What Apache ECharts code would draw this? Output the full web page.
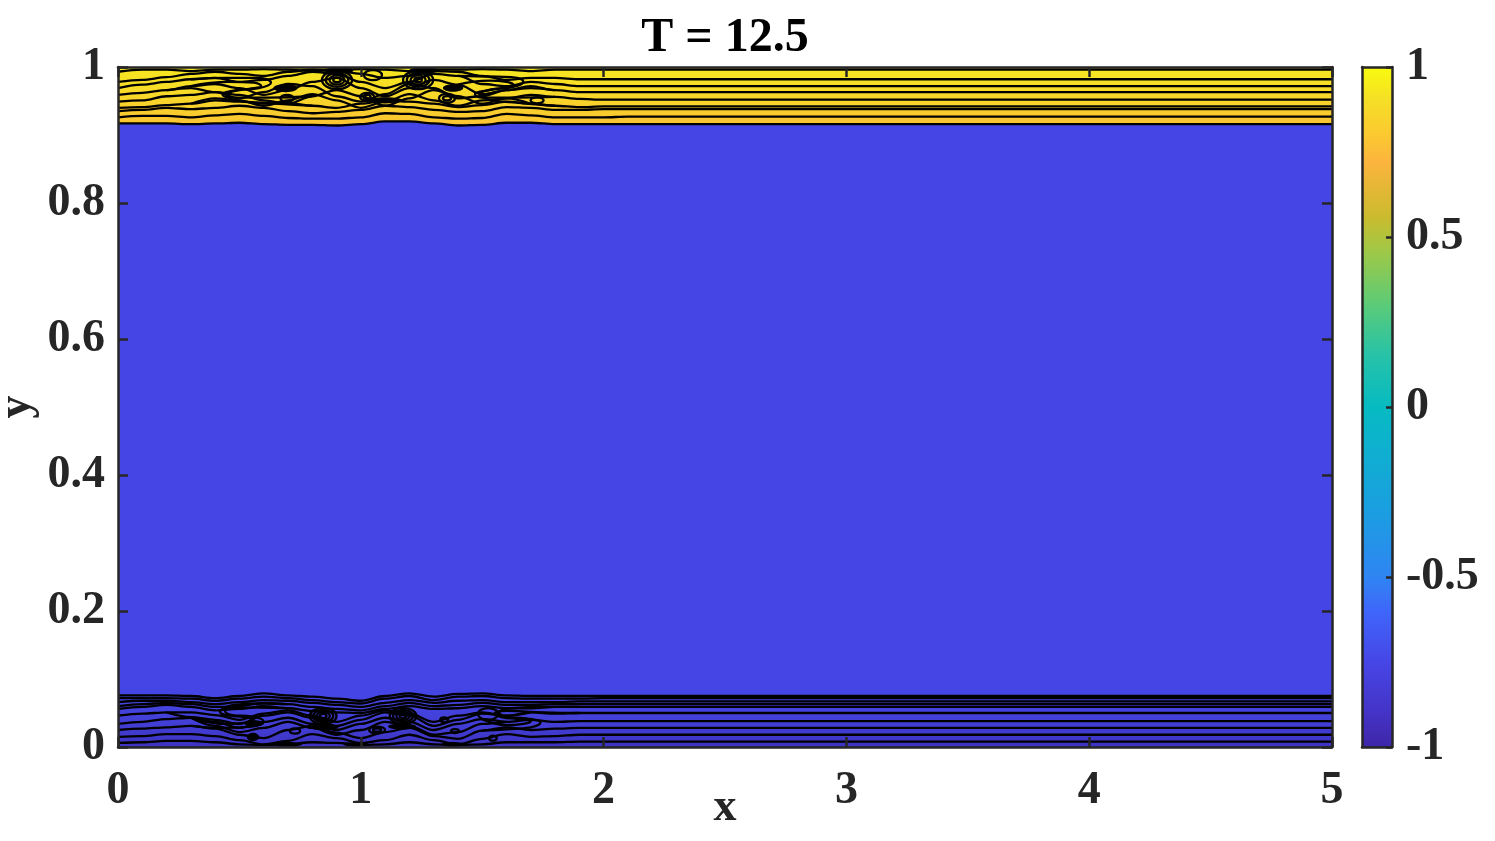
<!DOCTYPE html>
<html><head><meta charset="utf-8">
<script src="https://cdn.jsdelivr.net/npm/echarts/dist/echarts.min.js"></script>
<style>html,body{margin:0;padding:0;background:#fff}#c{width:1495px;height:841px}</style>
</head><body><div id="c"></div><script>
// ---------- data ----------
const xTicks = [0, 1, 2, 3, 4, 5];
const yTicks = [0, 0.2, 0.4, 0.6, 0.8, 1];
const cbTicks = [-1, -0.5, 0, 0.5, 1];
const titleText = 'T = 12.5';
// x positions where contour lines were read (beyond 2.2 they run flat to x = 5)
const xs = [0,0.1,0.2,0.3,0.4,0.5,0.6,0.7,0.8,0.9,1.0,1.1,1.2,1.3,1.4,1.5,1.6,1.7,1.8,1.9,2.0,2.1,2.2];
const xEnd = 5;
// upper (yellow) layer: interface and contour lines
const topEdge = [0.917,0.917,0.917,0.916,0.917,0.918,0.916,0.915,0.915,0.914,0.916,0.920,0.920,0.917,0.914,0.915,0.918,0.918,0.916,0.916,0.916,0.916,0.916];
const topL1 = [0.926,0.928,0.928,0.926,0.929,0.931,0.928,0.925,0.924,0.924,0.926,0.932,0.931,0.926,0.924,0.925,0.931,0.929,0.926,0.926,0.926,0.927,0.927];
const topL2 = [0.935,0.937,0.940,0.938,0.940,0.943,0.940,0.935,0.932,0.934,0.937,0.943,0.941,0.937,0.934,0.935,0.941,0.940,0.937,0.937,0.938,0.938,0.938];
const topL3 = [0.940,0.941,0.944,0.946,0.951,0.949,0.946,0.947,0.943,0.940,0.946,0.951,0.949,0.946,0.941,0.944,0.949,0.946,0.943,0.941,0.942,0.942,0.942];
const topL4 = [0.949,0.951,0.957,0.959,0.963,0.959,0.951,0.946,0.957,0.966,0.957,0.943,0.954,0.966,0.957,0.946,0.954,0.959,0.956,0.953,0.952,0.952,0.952];
const topL5 = [0.959,0.962,0.966,0.972,0.975,0.969,0.959,0.966,0.978,0.984,0.969,0.957,0.969,0.981,0.974,0.960,0.966,0.972,0.966,0.963,0.963,0.963,0.963];
const topL6 = [0.969,0.974,0.978,0.982,0.984,0.978,0.981,0.987,0.993,0.990,0.978,0.969,0.978,0.990,0.987,0.975,0.972,0.978,0.975,0.972,0.972,0.972,0.972];
const topL7 = [0.978,0.981,0.985,0.990,0.993,0.990,0.987,0.993,0.996,0.994,0.990,0.984,0.987,0.994,0.993,0.987,0.981,0.984,0.984,0.982,0.982,0.982,0.982];
const topL8 = [0.993,0.996,0.996,0.994,0.996,0.996,0.997,0.996,0.994,0.996,0.997,0.996,0.994,0.996,0.996,0.997,0.996,0.994,0.996,0.996,0.996,0.996,0.996];
const topE1 = [null,null,0.966,0.969,0.963,0.954,0.963,0.975,0.972,0.957,0.949,0.960,0.975,0.969,0.954,0.957,0.966,0.969,0.966,null,null,null,null];
const topE2 = [null,null,null,0.946,0.954,0.951,0.943,0.951,0.960,0.951,0.940,0.949,0.960,0.951,0.943,0.951,0.954,0.946,null,null,null,null,null];
// folded (S-shaped) contours in the upper layer: [x, y] along each line
const topFold1a = [[0.30,0.982],[0.45,0.984],[0.58,0.984],[0.63,0.977],[0.58,0.969],[0.50,0.966],[0.45,0.959],[0.49,0.951],[0.62,0.947],[0.80,0.943]];
const topFold1b = [[0.30,0.972],[0.46,0.978],[0.56,0.977],[0.59,0.972],[0.54,0.968],[0.47,0.965],[0.43,0.960],[0.46,0.955],[0.62,0.955],[0.80,0.957]];
const topFold2a = [[1.40,0.987],[1.52,0.986],[1.62,0.985],[1.67,0.978],[1.62,0.970],[1.54,0.967],[1.49,0.960],[1.53,0.952],[1.66,0.947],[1.80,0.943]];
const topFold2b = [[1.40,0.974],[1.53,0.980],[1.60,0.978],[1.63,0.973],[1.58,0.969],[1.51,0.965],[1.47,0.960],[1.50,0.955],[1.64,0.955],[1.80,0.956]];
// lower (dark blue) layer
const botEdge = [0.076,0.076,0.076,0.075,0.072,0.075,0.079,0.076,0.074,0.071,0.068,0.075,0.079,0.074,0.078,0.079,0.076,0.075,0.075,0.075,0.075,0.075,0.075];
const botM1 = [0.072,0.072,0.072,0.071,0.068,0.071,0.074,0.072,0.069,0.066,0.064,0.071,0.075,0.069,0.074,0.075,0.072,0.071,0.071,0.071,0.072,0.072,0.072];
const botM2 = [0.066,0.068,0.068,0.066,0.063,0.066,0.069,0.068,0.065,0.062,0.059,0.065,0.069,0.065,0.068,0.069,0.066,0.066,0.066,0.067,0.067,0.067,0.067];
const botM3 = [0.060,0.063,0.065,0.063,0.059,0.060,0.065,0.063,0.059,0.056,0.054,0.060,0.065,0.060,0.062,0.065,0.062,0.062,0.063,0.063,0.063,0.063,0.063];
const botM4 = [0.056,0.059,0.062,0.059,0.054,0.056,0.060,0.057,0.053,0.051,0.050,0.056,0.060,0.056,0.057,0.060,0.057,0.057,0.059,0.059,0.059,0.059,0.059];
const botM5 = [0.046,0.049,0.051,0.051,0.047,0.040,0.049,0.054,0.046,0.037,0.046,0.054,0.049,0.037,0.046,0.051,0.046,0.051,0.049,0.050,0.050,0.050,0.050];
const botM6 = [0.034,0.037,0.041,0.043,0.037,0.028,0.037,0.043,0.034,0.025,0.034,0.043,0.037,0.025,0.034,0.041,0.037,0.040,0.037,0.038,0.038,0.038,0.038];
const botM7 = [0.025,0.027,0.029,0.031,0.027,0.018,0.013,0.025,0.031,0.021,0.013,0.022,0.028,0.016,0.012,0.024,0.029,0.025,0.027,0.028,0.028,0.028,0.028];
const botM8 = [0.015,0.016,0.019,0.019,0.016,0.010,0.004,0.009,0.019,0.013,0.006,0.010,0.018,0.010,0.004,0.012,0.019,0.015,0.016,0.018,0.018,0.018,0.018];
const botM9 = [0.006,0.007,0.009,0.009,0.007,0.004,0.003,0.004,0.007,0.006,0.003,0.004,0.007,0.004,0.003,0.004,0.007,0.007,0.007,0.008,0.008,0.008,0.008];
const botF1 = [null,null,0.051,0.044,0.040,0.034,0.046,0.051,0.043,0.031,0.040,0.051,0.046,0.031,0.040,0.049,0.046,0.051,null,null,null,null,null];
const botF2 = [null,null,null,0.043,0.031,0.022,0.028,0.037,0.028,0.018,0.025,0.037,0.031,0.018,0.022,0.034,0.037,null,null,null,null,null,null];
// folded contours in the lower layer
const botFold1a = [[0.30,0.031],[0.42,0.028],[0.55,0.030],[0.60,0.037],[0.55,0.045],[0.47,0.047],[0.44,0.054],[0.48,0.062],[0.60,0.064],[0.70,0.063]];
const botFold1b = [[0.30,0.043],[0.44,0.034],[0.53,0.036],[0.56,0.040],[0.52,0.044],[0.46,0.046],[0.42,0.052],[0.45,0.058],[0.58,0.058],[0.70,0.057]];
const botFold2a = [[1.50,0.024],[1.60,0.026],[1.70,0.029],[1.74,0.036],[1.68,0.042],[1.60,0.044],[1.57,0.051],[1.62,0.057],[1.75,0.059],[1.90,0.059]];
const botFold2b = [[1.50,0.041],[1.60,0.032],[1.67,0.034],[1.70,0.038],[1.65,0.041],[1.58,0.044],[1.55,0.049],[1.60,0.053],[1.75,0.051],[1.90,0.050]];
// closed vortex contours: [x, y, rx, ry, rings]
const topRings = [[0.696,0.954,0.027,0.0051,1],[0.902,0.981,0.062,0.0135,4],[1.026,0.956,0.029,0.0059,2],[1.05,0.988,0.037,0.0074,1],[1.236,0.981,0.062,0.0135,4],[1.355,0.954,0.033,0.0066,2],[1.726,0.951,0.027,0.0044,1]];
const botRings = [[0.556,0.0147,0.021,0.0044,2],[0.729,0.0235,0.021,0.0037,1],[0.845,0.0456,0.055,0.0120,4],[1.067,0.025,0.033,0.0051,2],[1.174,0.0456,0.055,0.0120,4],[1.343,0.040,0.016,0.0037,1],[1.388,0.0235,0.016,0.0029,1],[1.524,0.0485,0.041,0.0088,1],[1.544,0.013,0.016,0.0037,1]];
// dense clusters of contour lines: [x, y, rx, ry]
const topBlobs = [[0.69,0.969,0.050,0.0060],[0.91,0.995,0.060,0.0045],[1.10,0.951,0.070,0.0045],[1.26,0.995,0.060,0.0045],[1.38,0.969,0.042,0.0055]];
const botBlobs = [[0.56,0.035,0.040,0.0045],[0.85,0.029,0.058,0.0045],[1.17,0.030,0.058,0.0045],[0.70,0.004,0.058,0.0035],[0.98,0.004,0.052,0.0035],[1.38,0.004,0.048,0.0035]];
// parula colour map (value -> colour)
const parulaVals = [-1,-0.9,-0.75,-0.6,-0.5,-0.3,-0.1,0,0.16,0.3,0.46,0.56,0.72,0.8,0.9,1];
const parulaCols = ['#3E26A8','#4433C6','#4646E6','#3F66FA','#2F85F3','#1A9FE0','#0DB2CD','#06BBC2','#29C3A6','#5BCB78','#A0C846','#CBBB2E','#FCB43E','#FBC930','#F5DE27','#F9FB0E'];

// ---------- styles ----------
const FONT = '"Liberation Serif","Times New Roman",serif';
const AX = '#262626';
const FIELD = '#4545E6';
const LW = 2.3;

function pts(ys){ const a = xs.map((x,i)=>[x, ys[i]]); a.push([xEnd, ys[ys.length-1]]); return a; }
function contour(ys, extra){
  return Object.assign({type:'line', data:pts(ys), symbol:'none', smooth:0.35, smoothMonotone:'x', connectNulls:false, silent:true,
    lineStyle:{color:'#000', width:LW}, z:3, animation:false}, extra||{});
}
function path(p){
  return {type:'line', data:p, symbol:'none', smooth:0.5, silent:true, lineStyle:{color:'#000', width:LW}, z:3, animation:false};
}
function ringRender(params, api){
  const c = api.coord([api.value(0), api.value(1)]);
  const s = api.size([api.value(2), api.value(3)]);
  const n = api.value(4);
  const ch = [];
  for(let k=1;k<=n;k++) ch.push({type:'ellipse', shape:{cx:c[0], cy:c[1], rx:s[0]*k/n, ry:s[1]*k/n}, style:{fill:'none', stroke:'#000', lineWidth:LW}});
  return {type:'group', children:ch};
}
function blobRender(params, api){
  const c = api.coord([api.value(0), api.value(1)]);
  const s = api.size([api.value(2), api.value(3)]);
  return {type:'ellipse', shape:{cx:c[0], cy:c[1], rx:s[0], ry:s[1]}, style:{fill:'#000'}};
}
const cbStops = parulaVals.map((v,i)=>({offset:(1-v)/2, color:parulaCols[i]})).reverse();

const lbl = {fontFamily:FONT, fontWeight:'bold', fontSize:46, color:AX};
const axLine = {show:true, onZero:false, lineStyle:{color:AX, width:2.5}};
const tick = {show:true, inside:true, length:10, lineStyle:{color:AX, width:2.5}};
const nameStyle = {fontFamily:FONT, fontWeight:'bold', fontSize:46, color:AX};

const chart = echarts.init(document.getElementById('c'), null, {renderer:'canvas'});
chart.setOption({
  animation:false,
  backgroundColor:'#fff',
  title:{text:titleText, left:720, textAlign:'center', top:10, textStyle:{fontFamily:FONT, fontWeight:'bold', fontSize:48, color:'#000'}},
  grid:[
    {left:118, right:163, top:67, bottom:94, show:true, backgroundColor:FIELD, borderWidth:0, containLabel:false, outerBoundsMode:'none'},
    {left:1362, width:30, top:67, height:680, show:false, containLabel:false, outerBoundsMode:'none'}
  ],
  xAxis:[
    {gridIndex:0, type:'value', min:0, max:5, interval:1, position:'bottom', z:10, axisLine:axLine, axisTick:tick, splitLine:{show:false},
      axisLabel:Object.assign({margin:21}, lbl), name:'x', nameLocation:'middle', nameGap:38, nameMoveOverlap:false, nameTextStyle:nameStyle},
    {gridIndex:0, type:'value', min:0, max:5, interval:1, position:'top', z:10, axisLine:axLine, axisTick:tick, splitLine:{show:false}, axisLabel:{show:false}},
    {gridIndex:1, type:'value', min:0, max:1, position:'bottom', z:10, axisLine:axLine, axisTick:{show:false}, splitLine:{show:false}, axisLabel:{show:false}},
    {gridIndex:1, type:'value', min:0, max:1, position:'top', z:10, axisLine:axLine, axisTick:{show:false}, splitLine:{show:false}, axisLabel:{show:false}}
  ],
  yAxis:[
    {gridIndex:0, type:'value', min:0, max:1, interval:0.2, position:'left', z:10, axisLine:axLine, axisTick:tick, splitLine:{show:false},
      axisLabel:Object.assign({margin:13}, lbl), name:'y', nameLocation:'middle', nameGap:78, nameRotate:90, nameMoveOverlap:false, nameTextStyle:nameStyle},
    {gridIndex:0, type:'value', min:0, max:1, interval:0.2, position:'right', z:10, axisLine:axLine, axisTick:tick, splitLine:{show:false}, axisLabel:{show:false}},
    {gridIndex:1, type:'value', min:-1, max:1, interval:0.5, position:'left', z:10, axisLine:axLine, axisTick:{show:false}, splitLine:{show:false}, axisLabel:{show:false}},
    {gridIndex:1, type:'value', min:-1, max:1, interval:0.5, position:'right', z:10, axisLine:axLine,
      axisTick:{show:true, inside:true, length:6, lineStyle:{color:AX, width:2.5}}, splitLine:{show:false},
      axisLabel:Object.assign({margin:14}, lbl)}
  ],
  series:[
    contour(topEdge, {z:2, areaStyle:{origin:'end', opacity:1, color:new echarts.graphic.LinearGradient(0,0,0,1,[{offset:0,color:'#F6E720'},{offset:0.5,color:'#F8D82A'},{offset:1,color:'#FBC332'}])}}),
    contour(botEdge, {z:2, areaStyle:{origin:'start', opacity:1, color:new echarts.graphic.LinearGradient(0,0,0,1,[{offset:0,color:'#4646E6'},{offset:0.5,color:'#4340D8'},{offset:1,color:'#3E33C2'}])}}),
    contour(topL1), contour(topL2), contour(topL3), contour(topL4), contour(topL5), contour(topL6), contour(topL7), contour(topL8),
    contour(topE1), contour(topE2),
    path(topFold1a), path(topFold1b), path(topFold2a), path(topFold2b),
    contour(botM1), contour(botM2), contour(botM3), contour(botM4), contour(botM5), contour(botM6), contour(botM7), contour(botM8), contour(botM9),
    contour(botF1), contour(botF2),
    path(botFold1a), path(botFold1b), path(botFold2a), path(botFold2b),
    {type:'custom', xAxisIndex:0, yAxisIndex:0, data:topRings, renderItem:ringRender, z:4, silent:true, clip:true},
    {type:'custom', xAxisIndex:0, yAxisIndex:0, data:botRings, renderItem:ringRender, z:4, silent:true, clip:true},
    {type:'custom', xAxisIndex:0, yAxisIndex:0, data:topBlobs, renderItem:blobRender, z:4, silent:true, clip:true},
    {type:'custom', xAxisIndex:0, yAxisIndex:0, data:botBlobs, renderItem:blobRender, z:4, silent:true, clip:true},
    {type:'custom', xAxisIndex:2, yAxisIndex:2, data:[[0, cbTicks[0]]], silent:true, z:1,
      renderItem:function(params, api){
        const p0 = api.coord([0, cbTicks[cbTicks.length-1]]);
        const p1 = api.coord([1, cbTicks[0]]);
        return {type:'rect', shape:{x:p0[0], y:p0[1], width:p1[0]-p0[0], height:p1[1]-p0[1]},
          style:{fill:new echarts.graphic.LinearGradient(0,0,0,1,cbStops)}};
      }}
  ]
});
</script></body></html>
